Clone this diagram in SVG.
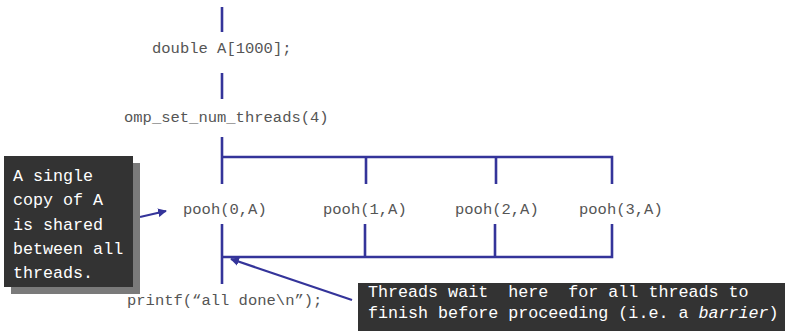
<svg xmlns="http://www.w3.org/2000/svg" width="785" height="331" viewBox="0 0 785 331">
  <style>
    .code { font-family: "Liberation Mono", "Courier New", monospace; font-size: 15.5px; fill: #555555; }
    .flow { stroke: #34349a; stroke-width: 2.6; fill: none; stroke-linecap: butt; }
    .ptr { stroke: #34349a; stroke-width: 2.2; fill: none; }
    .note { fill: #333333; }
    .shadow { fill: #7a7a7a; }
    .notetext { font-family: "Liberation Mono", "DejaVu Sans Mono", monospace; font-size: 16.7px; fill: #ffffff; white-space: pre; }
  </style>
  <defs>
    <marker id="head" viewBox="0 0 10 10" refX="9" refY="5" markerWidth="4" markerHeight="4" orient="auto" markerUnits="strokeWidth">
      <path d="M0,0 L10,5 L0,10 z" fill="#34349a"/>
    </marker>
  </defs>

  <rect width="785" height="331" fill="#ffffff"/>

  <!-- fork/join lines -->
  <g id="connectors">
    <line class="flow" x1="222" y1="7" x2="222" y2="32"/>
    <line class="flow" x1="222" y1="73" x2="222" y2="99"/>
    <line class="flow" x1="222" y1="137" x2="222" y2="184"/>
    <polyline class="flow" points="222,157 612,157 612,184"/>
    <line class="flow" x1="366" y1="157" x2="366" y2="184"/>
    <line class="flow" x1="496" y1="157" x2="496" y2="184"/>
    <line class="flow" x1="222" y1="224" x2="222" y2="284"/>
    <polyline class="flow" points="222,257 612,257 612,224"/>
    <line class="flow" x1="365" y1="224" x2="365" y2="257"/>
    <line class="flow" x1="495" y1="224" x2="495" y2="257"/>
    <line class="ptr" x1="140" y1="217" x2="166" y2="211" marker-end="url(#head)"/>
    <line class="ptr" x1="352" y1="300" x2="231" y2="259" marker-end="url(#head)"/>
  </g>

  <g id="decl"><text class="code" x="152" y="53">double A[1000];</text></g>
  <g id="setthreads"><text class="code" x="124" y="122">omp_set_num_threads(4)</text></g>
  <g id="pooh0"><text class="code" x="183" y="214">pooh(0,A)</text></g>
  <g id="pooh1"><text class="code" x="323" y="214">pooh(1,A)</text></g>
  <g id="pooh2"><text class="code" x="455" y="214">pooh(2,A)</text></g>
  <g id="pooh3"><text class="code" x="579" y="214">pooh(3,A)</text></g>
  <g id="printf"><text class="code" x="127" y="305">printf(“all done\n”);</text></g>

  <g id="note-shared">
    <rect class="shadow" x="11" y="163" width="129" height="131"/>
    <rect class="note" x="4" y="156" width="129" height="131"/>
    <text class="notetext" x="13" y="181">A single</text>
    <text class="notetext" x="13" y="205">copy of A</text>
    <text class="notetext" x="13" y="230">is shared</text>
    <text class="notetext" x="13" y="254">between all</text>
    <text class="notetext" x="13" y="278">threads.</text>
  </g>

  <g id="note-barrier">
    <rect class="note" x="358" y="283" width="427" height="48"/>
    <text class="notetext" x="368" y="297" xml:space="preserve">Threads wait  here  for all threads to</text>
    <text class="notetext" x="368" y="318" xml:space="preserve">finish before proceeding (i.e. a <tspan font-style="italic">barrier</tspan>)</text>
  </g>
</svg>
